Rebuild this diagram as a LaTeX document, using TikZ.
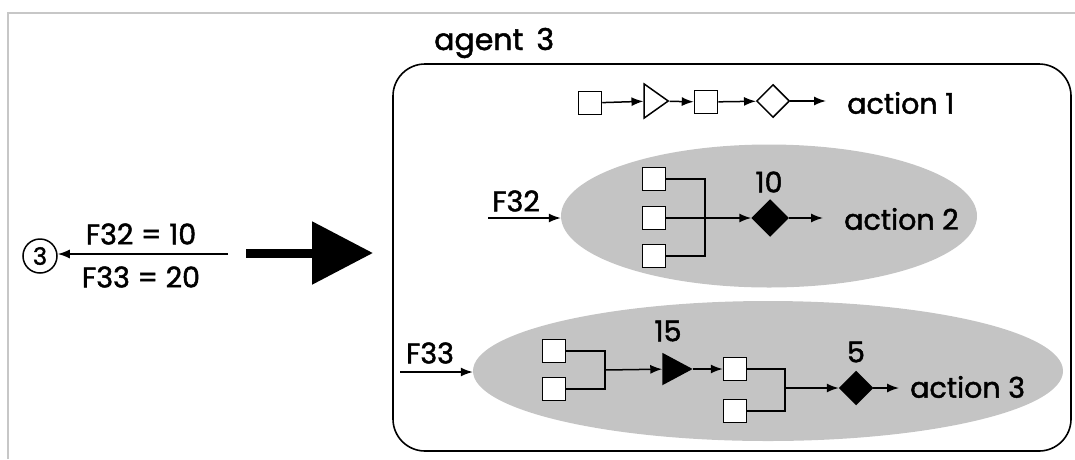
\documentclass[tikz,border=0pt]{standalone}
\usepackage{fontspec}
\setmainfont{Poppins}[FakeBold=1.6]
\usetikzlibrary{shapes.geometric,arrows.meta}
\tikzset{
  lbl/.style={font=\fontsize{28.5}{30}\selectfont, inner sep=0},
  box/.style={draw, fill=white, minimum size=23pt, inner sep=0, line width=1.5pt},
  arr/.style={line width=1.5pt, -{Latex[length=12pt,width=9pt]}},
  ln/.style={line width=1.5pt},
  blob/.style={ellipse, fill=black!23, inner sep=0},
  dia/.style={diamond, draw, inner sep=0, line width=1.5pt},
  tri/.style={isosceles triangle, isosceles triangle stretches, draw, inner sep=0, line width=1.5pt},
}
\begin{document}
\begin{tikzpicture}[x=1pt,y=-1pt]
\useasboundingbox (0,0) rectangle (1075,459);
% outer frame (cropped)
\draw[black!22, line width=2pt] (8,459) -- (8,13) -- (1075,13);
% agent box
\node[lbl, anchor=base west, font=\fontsize{30}{32}\selectfont] (ag) at (434,50) {agent\, 3};
\draw[line width=1.6pt, rounded corners=32pt] (393,64) rectangle (1071,451);

% action 1 row
\node[box] (p1) at (590,103) {};
\node[tri, minimum width=34pt, minimum height=24pt] (p2) at (653,101) {};
\node[box] (p3) at (706,102) {};
\node[dia, minimum width=33pt, minimum height=33pt] (p4) at (773,101) {};
\coordinate (p5) at (826,101);
\node[lbl, anchor=west] (a1) at (847,103) {action 1};
\draw[arr] (p1) -- (p2);
\draw[arr] (p2) -- (p3);
\draw[arr] (p3) -- (p4);
\draw[arr] (p4) -- (p5);

% ellipse 2
\node[blob, minimum width=416pt, minimum height=143pt] (e2) at (769,216) {};
\coordinate (f2s) at (488,218);
\node[lbl] (f2l) at (516,201) {F32};
\draw[arr] (f2s) -- (e2.west |- f2s);
\node[box] (q1) at (654,179) {};
\node[box] (q2) at (654,218) {};
\node[box] (q3) at (654,256) {};
\coordinate (j2) at (705,218);
\node[dia, fill=black, minimum width=36pt, minimum height=36pt] (d2) at (770,218) {};
\node[lbl] (n10) at (769,182) {10};
\coordinate (x2) at (823,218);
\node[lbl, anchor=west] (a2) at (844,219) {action 2};
\draw[ln] (q1.east) -| (j2);
\draw[ln] (q3.east) -| (j2);
\draw[arr] (q2.east) -- (d2);
\draw[arr] (d2) -- (x2);

% ellipse 3
\node[blob, minimum width=590pt, minimum height=140pt] (e3) at (768,371) {};
\coordinate (f3s) at (400,372);
\node[lbl] (f3l) at (430,353) {F33};
\draw[arr] (f3s) -- (e3.west |- f3s);
\node[box] (qa) at (554,351) {};
\node[box] (qb) at (554,389) {};
\coordinate (ja) at (605,370);
\node[tri, fill=black, minimum width=30pt, minimum height=28pt] (t15) at (672,369) {};
\node[lbl] (n15) at (668,331) {15};
\draw[ln] (qa.east) -| (ja);
\draw[ln] (qb.east) -| (ja);
\draw[arr] (ja) -- (t15);
\node[box] (qc) at (735,369) {};
\node[box] (qd) at (735,411) {};
\draw[arr] (t15) -- (qc);
\coordinate (jc) at (785,388);
\draw[ln] (qc.east) -| (jc);
\draw[ln] (qd.east) -| (jc);
\node[dia, fill=black, minimum width=33pt, minimum height=33pt] (d3) at (856,388) {};
\node[lbl] (n5) at (856,352) {5};
\draw[arr] (jc) -- (d3);
\coordinate (x3) at (899,388);
\draw[arr] (d3) -- (x3);
\node[lbl, anchor=west] (a3) at (910,387) {action 3};

% left part
\node[circle, draw, line width=1.5pt, minimum size=34pt, inner sep=0, font=\fontsize{24}{26}\selectfont] (c3) at (40,256) {3};
\coordinate (ls) at (228,254);
\draw[arr] (ls) -- (c3.east |- ls);
\node[lbl] (l1) at (141,234) {F32 = 10};
\node[lbl] (l2) at (141,277) {F33 = 20};
% big arrow
\coordinate (ba1) at (246,253);
\coordinate (ba2) at (373,253);
\draw[line width=9pt, -{Triangle[length=61pt,width=61pt]}] (ba1) -- (ba2);
\end{tikzpicture}
\end{document}
